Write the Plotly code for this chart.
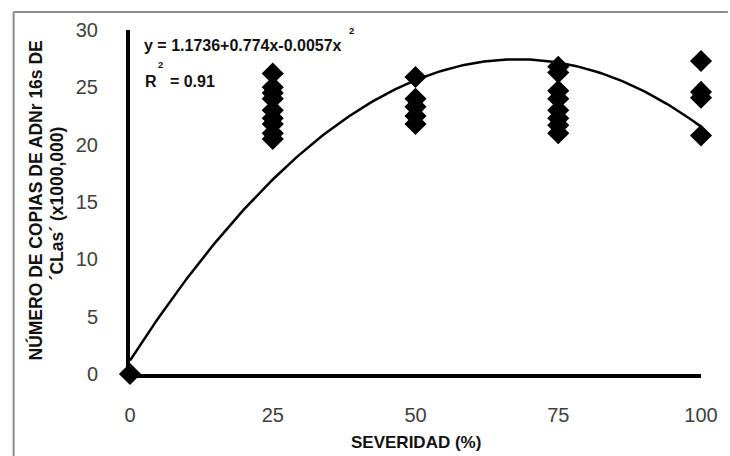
import numpy as np
import plotly.graph_objects as go

# Data
sev_0 = [0]
cop_0 = [0]
sev_25 = [25] * 9
cop_25 = [26.2, 25.0, 24.5, 24.0, 23.0, 22.3, 21.8, 21.0, 20.5]
sev_50 = [50] * 5
cop_50 = [25.9, 24.0, 23.3, 22.5, 21.8]
sev_75 = [75] * 8
cop_75 = [26.8, 26.3, 24.7, 24.0, 23.0, 22.3, 21.7, 21.0]
sev_100 = [100] * 4
cop_100 = [27.3, 24.6, 24.1, 20.8]

# Trendline coefficients shown on the chart
b0, b1, b2 = 1.1736, 0.774, -0.0057

x_ticks = [0, 25, 50, 75, 100]
y_ticks = [0, 5, 10, 15, 20, 25, 30]

xs = np.concatenate([sev_0, sev_25, sev_50, sev_75, sev_100])
ys = np.concatenate([cop_0, cop_25, cop_50, cop_75, cop_100])

xfit = np.linspace(0, 100, 201)
yfit = b0 + b1 * xfit + b2 * xfit ** 2

fig = go.Figure()
fig.add_trace(go.Scatter(x=xfit, y=yfit, mode="lines",
                         line=dict(color="black", width=2.5),
                         hoverinfo="skip", showlegend=False, cliponaxis=False))
fig.add_trace(go.Scatter(x=xs, y=ys, mode="markers",
                         marker=dict(symbol="diamond", size=17, color="black"),
                         showlegend=False, cliponaxis=False))

L, R, T, B = 130, 26, 30, 82
W, H = 730, 456
pw, ph = W - L - R, H - T - B

def px(x):
    return (x - L) / pw

def py(y):
    return (H - B - y) / ph

fig.update_layout(
    width=W, height=H,
    margin=dict(l=L, r=R, t=T, b=B),
    paper_bgcolor="white", plot_bgcolor="white",
    font=dict(family="Liberation Sans", color="#333"),
    xaxis=dict(range=[0, 100], tickvals=x_ticks, showgrid=False, zeroline=False,
               showline=True, linecolor="black", linewidth=4, ticks="",
               tickfont=dict(size=20, color="#404040"), ticklabelstandoff=20),
    yaxis=dict(range=[0, 30], tickvals=y_ticks, showgrid=False, zeroline=False,
               showline=True, linecolor="black", linewidth=4, ticks="",
               tickfont=dict(size=20, color="#404040"), ticklabelstandoff=24),
    shapes=[
        dict(type="line", xref="paper", yref="paper", x0=px(13), x1=px(731),
             y0=py(12), y1=py(12), line=dict(color="#8c8c8c", width=2)),
        dict(type="line", xref="paper", yref="paper", x0=px(13), x1=px(13),
             y0=py(12), y1=py(460), line=dict(color="#8c8c8c", width=2)),
    ],
)

ann = [
    dict(text="<b>y = 1.1736+0.774x-0.0057x</b>", x=px(142), y=py(46), size=16, xa="left"),
    dict(text="<b>2</b>", x=px(353), y=py(30), size=9.5, xa="center"),
    dict(text="<b>2</b>", x=px(161), y=py(65), size=9.5, xa="center"),
    dict(text="<b>R   = 0.91</b>", x=px(143), y=py(81), size=16, xa="left"),
    dict(text="<b>NÚMERO DE COPIAS DE ADNr 16s DE</b>", x=px(35), y=py(200), size=17.5,
         xa="center", angle=-90),
    dict(text="<b>´CLas´ (x1000,000)</b>", x=px(57), y=py(203), size=17.5,
         xa="center", angle=-90),
    dict(text="<b>SEVERIDAD (%)</b>", x=px(417), y=py(443), size=17, xa="center"),
]
for a in ann:
    fig.add_annotation(text=a["text"], x=a["x"], y=a["y"], xref="paper", yref="paper",
                       xanchor=a["xa"], yanchor="middle", showarrow=False,
                       textangle=a.get("angle", 0),
                       font=dict(size=a["size"], color="#111", family="Liberation Sans"))

fig.write_html("out.html")
